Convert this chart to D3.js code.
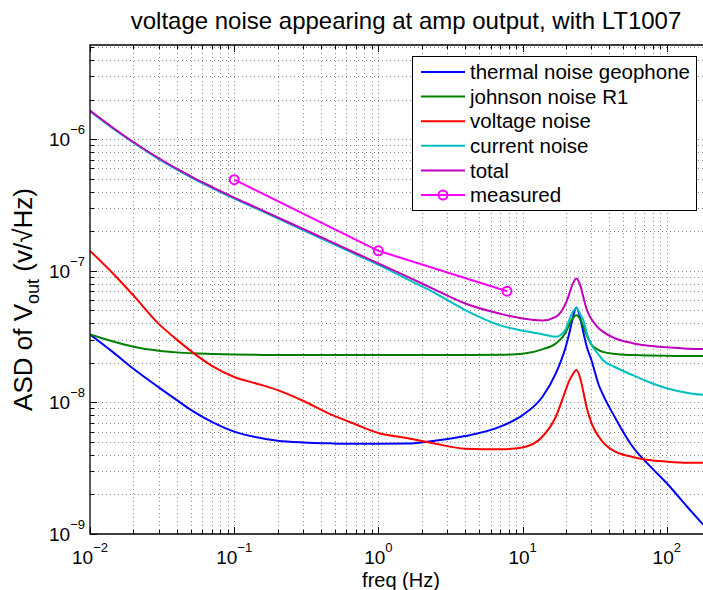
<!DOCTYPE html>
<html>
<head>
<meta charset="utf-8">
<script src="https://cdn.jsdelivr.net/npm/d3@7"></script>
<style>
    body { margin: 0; background: #fff; }
    text { font-family: 'Liberation Sans', Arial, sans-serif; fill: #000; }
</style>
</head>
<body>
<div id="chart"></div>
<script>
// frequencies (Hz) where the curves were read
const freq = [0.01, 0.0145, 0.02, 0.03, 0.04, 0.052, 0.071, 0.1, 0.14, 0.2, 0.3, 0.48, 0.7, 1.0, 1.6, 2.4, 4.0, 7.0,
    10, 13.7, 17, 19.9, 21, 22.1, 23.6, 25.3, 26.4, 28, 30, 33.8, 36, 44, 58, 75, 100, 140, 200];

const thermalNoise = [3.28e-8, 2.40e-8, 1.80e-8, 1.30e-8, 1.04e-8, 8.55e-9, 7.05e-9, 6.0e-9, 5.45e-9, 5.12e-9, 4.96e-9, 4.88e-9, 4.85e-9, 4.85e-9, 4.87e-9, 5.1e-9, 5.55e-9, 6.55e-9,
    8.0e-9, 1.10e-8, 1.66e-8, 2.64e-8, 3.3e-8, 4.2e-8, 5.26e-8, 4.2e-8, 3.4e-8, 2.6e-8, 2.1e-8, 1.35e-8, 1.15e-8, 7.6e-9, 4.6e-9, 3.35e-9, 2.43e-9, 1.59e-9, 1.03e-9];

const johnsonNoise = [3.28e-8, 2.90e-8, 2.65e-8, 2.47e-8, 2.40e-8, 2.36e-8, 2.33e-8, 2.31e-8, 2.30e-8, 2.29e-8, 2.29e-8, 2.29e-8, 2.29e-8, 2.29e-8, 2.29e-8, 2.29e-8, 2.29e-8, 2.30e-8,
    2.34e-8, 2.53e-8, 2.8e-8, 3.4e-8, 3.86e-8, 4.3e-8, 4.6e-8, 4.2e-8, 3.75e-8, 3.2e-8, 2.75e-8, 2.5e-8, 2.42e-8, 2.33e-8, 2.29e-8, 2.27e-8, 2.26e-8, 2.25e-8, 2.25e-8];

const voltageNoise = [1.42e-7, 9.5e-8, 6.5e-8, 3.95e-8, 3.0e-8, 2.38e-8, 1.88e-8, 1.56e-8, 1.40e-8, 1.24e-8, 1.03e-8, 8.0e-9, 6.8e-9, 5.85e-9, 5.35e-9, 4.9e-9, 4.45e-9, 4.4e-9,
    4.55e-9, 5.48e-9, 7.78e-9, 1.24e-8, 1.45e-8, 1.61e-8, 1.76e-8, 1.48e-8, 1.2e-8, 8.9e-9, 7.0e-9, 5.48e-9, 5.0e-9, 4.22e-9, 3.85e-9, 3.65e-9, 3.55e-9, 3.48e-9, 3.47e-9];

const currentNoise = [1.63e-6, 1.20e-6, 9.4e-7, 7.07e-7, 5.88e-7, 5.03e-7, 4.24e-7, 3.54e-7, 3.0e-7, 2.5e-7, 2.04e-7, 1.61e-7, 1.33e-7, 1.11e-7, 8.6e-8, 6.9e-8, 5.03e-8, 3.85e-8,
    3.5e-8, 3.3e-8, 3.15e-8, 3.6e-8, 4.2e-8, 4.8e-8, 5.2e-8, 4.6e-8, 4.2e-8, 3.3e-8, 2.75e-8, 2.3e-8, 2.1e-8, 1.85e-8, 1.61e-8, 1.43e-8, 1.28e-8, 1.18e-8, 1.13e-8];

const totalNoise = [1.65e-6, 1.217e-6, 9.53e-7, 7.17e-7, 5.97e-7, 5.11e-7, 4.31e-7, 3.6e-7, 3.05e-7, 2.55e-7, 2.08e-7, 1.645e-7, 1.36e-7, 1.14e-7, 9.0e-8, 7.3e-8, 5.65e-8, 4.72e-8,
    4.34e-8, 4.2e-8, 4.47e-8, 5.65e-8, 6.6e-8, 7.8e-8, 8.75e-8, 7.55e-8, 6.3e-8, 5.0e-8, 4.3e-8, 3.65e-8, 3.45e-8, 3.06e-8, 2.82e-8, 2.69e-8, 2.62e-8, 2.56e-8, 2.54e-8];

// measured points
const measuredFreq = [0.1, 1, 7.8];
const measuredNoise = [4.93e-7, 1.42e-7, 7.0e-8];

const seriesNames = ['thermal noise geophone', 'johnson noise R1', 'voltage noise', 'current noise', 'total', 'measured'];
const xTickValues = [0.01, 0.1, 1, 10, 100];
const xTickExps = ['−2', '−1', '0', '1', '2'];
const yTickValues = [1e-9, 1e-8, 1e-7, 1e-6];
const yTickExps = ['−9', '−8', '−7', '−6'];

const colors = ['#0000ff', '#008000', '#ff0000', '#00bfbf', '#bf00bf', '#ff00ff'];

const width = 703;
const height = 590;
const margin = { top: 45, left: 90 };
const plotW = 620.2;
const plotH = 489;

const svg = d3
    .select('#chart')
    .append('svg')
    .attr('width', width)
    .attr('height', height);

const x = d3.scaleLog().domain([0.01, 200]).range([margin.left, margin.left + plotW]);
const y = d3.scaleLog().domain([1e-9, 5.2e-6]).range([margin.top + plotH, margin.top]);

const xMinor = x.ticks();
const yMinor = y.ticks();
const isMajor = v => Math.abs(Math.log10(v) - Math.round(Math.log10(v))) < 1e-6;

// grid (dotted, like matlab)
const grid = svg.append('g')
    .attr('stroke', '#000')
    .attr('stroke-width', 0.7)
    .attr('stroke-dasharray', '1,3')
    .attr('opacity', 0.65);

grid.selectAll('.gx')
    .data(xMinor.filter(v => v > 0.01))
    .enter()
    .append('line')
    .attr('x1', d => Math.round(x(d)) + 0.5)
    .attr('x2', d => Math.round(x(d)) + 0.5)
    .attr('y1', margin.top)
    .attr('y2', margin.top + plotH);

grid.selectAll('.gy')
    .data(yMinor.filter(v => v > 1e-9))
    .enter()
    .append('line')
    .attr('x1', margin.left)
    .attr('x2', margin.left + plotW)
    .attr('y1', d => Math.round(y(d)) + 0.5)
    .attr('y2', d => Math.round(y(d)) + 0.5);

// clip for the curves
svg.append('clipPath')
    .attr('id', 'plot-clip')
    .append('rect')
    .attr('x', margin.left)
    .attr('y', margin.top)
    .attr('width', plotW)
    .attr('height', plotH);

const line = d3.line()
    .x(d => x(d[0]))
    .y(d => y(d[1]))
    .curve(d3.curveMonotoneX);

const allSeries = [thermalNoise, johnsonNoise, voltageNoise, currentNoise, totalNoise];

const curves = svg.append('g').attr('clip-path', 'url(#plot-clip)');

allSeries.forEach((vals, i) => {
    curves.append('path')
        .datum(freq.map((f, j) => [f, vals[j]]))
        .attr('d', line)
        .attr('fill', 'none')
        .attr('stroke', colors[i])
        .attr('stroke-width', 2);
});

// measured with circle markers
const measured = measuredFreq.map((f, j) => [f, measuredNoise[j]]);
curves.append('path')
    .datum(measured)
    .attr('d', d3.line().x(d => x(d[0])).y(d => y(d[1])))
    .attr('fill', 'none')
    .attr('stroke', colors[5])
    .attr('stroke-width', 2);

curves.selectAll('.marker')
    .data(measured)
    .enter()
    .append('circle')
    .attr('cx', d => x(d[0]))
    .attr('cy', d => y(d[1]))
    .attr('r', 4.5)
    .attr('fill', 'none')
    .attr('stroke', colors[5])
    .attr('stroke-width', 2);

// axes box (left, bottom, top) + ticks pointing inward
const axis = svg.append('g').attr('stroke', '#000');
const bottomY = margin.top + plotH;

axis.append('path')
    .attr('d', `M${width + 5},${margin.top}H${margin.left}V${bottomY}H${width + 5}`)
    .attr('fill', 'none')
    .attr('stroke-width', 1.3);

xMinor.forEach(v => {
    const len = isMajor(v) ? 7 : 4;
    const px = Math.round(x(v)) + 0.5;
    axis.append('line').attr('x1', px).attr('x2', px).attr('y1', bottomY).attr('y2', bottomY - len).attr('stroke-width', 1);
    axis.append('line').attr('x1', px).attr('x2', px).attr('y1', margin.top).attr('y2', margin.top + len).attr('stroke-width', 1);
});

yMinor.forEach(v => {
    const len = isMajor(v) ? 7 : 4;
    const py = Math.round(y(v)) + 0.5;
    axis.append('line').attr('x1', margin.left).attr('x2', margin.left + len).attr('y1', py).attr('y2', py).attr('stroke-width', 1);
});

// tick labels
xTickValues.forEach((v, i) => {
    const t = svg.append('text')
        .attr('x', x(v))
        .attr('y', 564)
        .attr('text-anchor', 'middle')
        .style('font-size', '19px');
    t.append('tspan').text('10');
    t.append('tspan').attr('dy', -12).style('font-size', '13px').text(xTickExps[i]);
});

yTickValues.forEach((v, i) => {
    const t = svg.append('text')
        .attr('x', 85)
        .attr('y', y(v) + 7)
        .attr('text-anchor', 'end')
        .style('font-size', '19px');
    t.append('tspan').text('10');
    t.append('tspan').attr('dy', -12).style('font-size', '13px').text(yTickExps[i]);
});

// title and axis labels
svg.append('text')
    .attr('x', 406)
    .attr('y', 29)
    .attr('text-anchor', 'middle')
    .style('font-size', '24px')
    .text('voltage noise appearing at amp output, with LT1007');

svg.append('text')
    .attr('x', 401)
    .attr('y', 587)
    .attr('text-anchor', 'middle')
    .style('font-size', '20px')
    .text('freq (Hz)');

const yLabel = svg.append('text')
    .attr('transform', `translate(32, ${margin.top + plotH / 2 + 10}) rotate(-90)`)
    .attr('text-anchor', 'middle')
    .style('font-size', '26px');
yLabel.append('tspan').text('ASD of V');
yLabel.append('tspan').attr('dy', 7).style('font-size', '18px').text('out');
yLabel.append('tspan').attr('dy', -7).text(' (v/√Hz)');

// legend
const legend = svg.append('g');
legend.append('rect')
    .attr('x', 412.5)
    .attr('y', 56.5)
    .attr('width', 284)
    .attr('height', 154)
    .attr('fill', '#fff')
    .attr('stroke', '#000')
    .attr('stroke-width', 1);

seriesNames.forEach((name, i) => {
    const cy = 72 + i * 24.6;
    legend.append('line')
        .attr('x1', 421)
        .attr('x2', 465)
        .attr('y1', cy)
        .attr('y2', cy)
        .attr('stroke', colors[i])
        .attr('stroke-width', 2);
    if (i === 5) {
        legend.append('circle')
            .attr('cx', 443)
            .attr('cy', cy)
            .attr('r', 4.5)
            .attr('fill', 'none')
            .attr('stroke', colors[i])
            .attr('stroke-width', 2);
    }
    legend.append('text')
        .attr('x', 470)
        .attr('y', cy)
        .attr('dy', '0.35em')
        .style('font-size', '20.5px')
        .text(name);
});
</script>
</body>
</html>
